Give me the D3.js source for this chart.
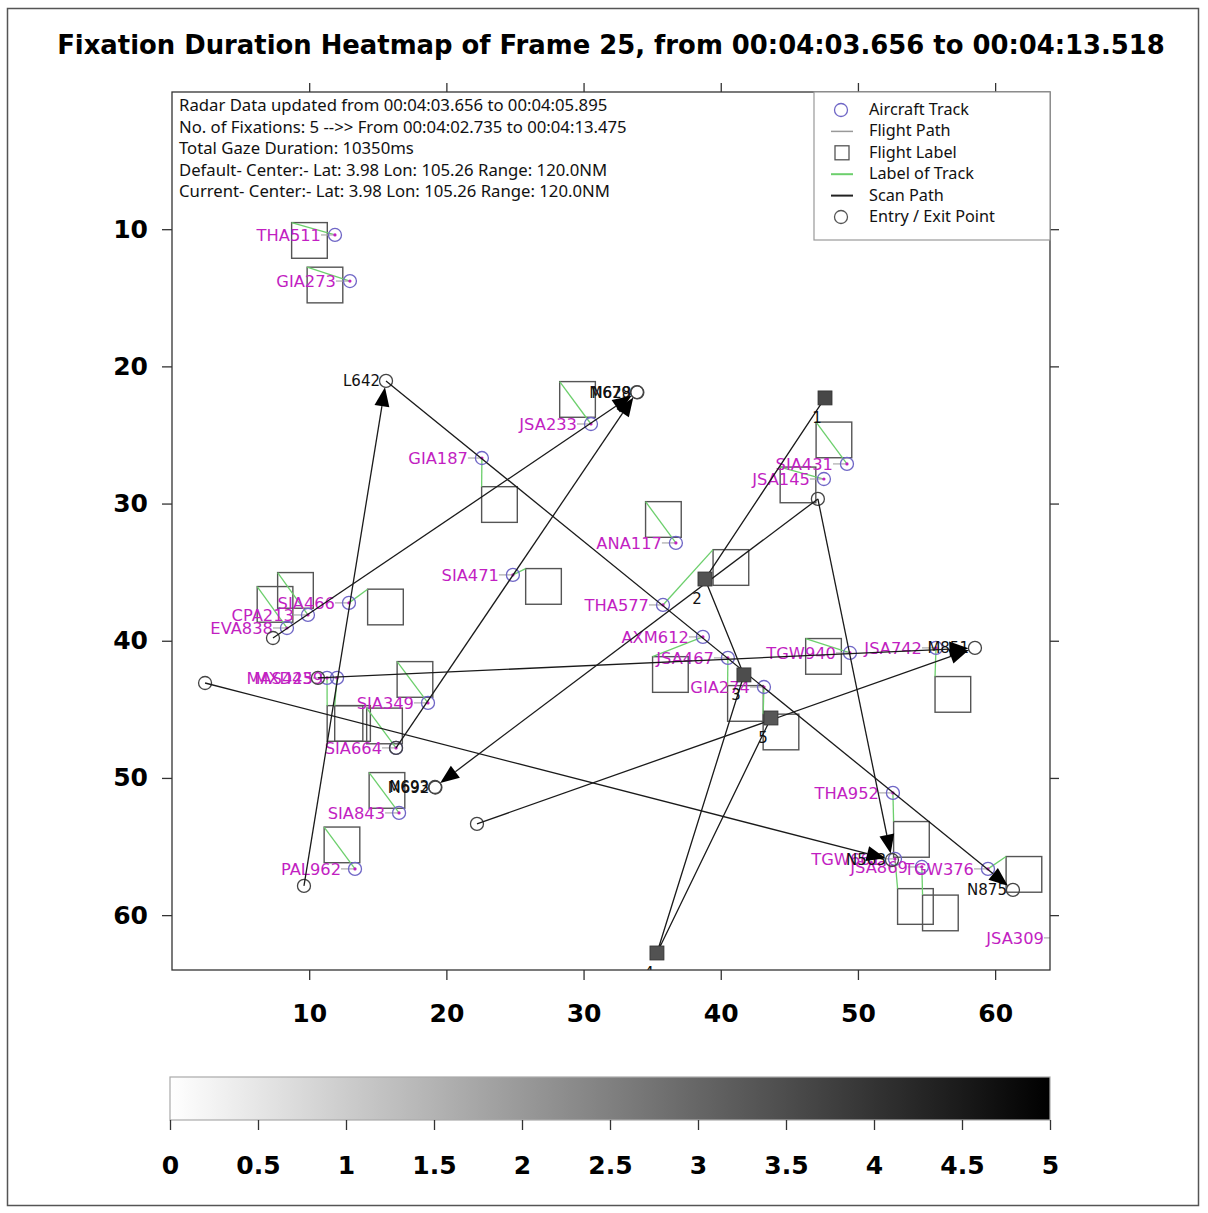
<!DOCTYPE html>
<html><head><meta charset="utf-8">
<script src="https://cdn.jsdelivr.net/npm/d3@7"></script>
<style>body{margin:0;background:#fff}svg{display:block}</style>
</head><body>
<script>
// ---------------- DATA ----------------
const titleText = "Fixation Duration Heatmap of Frame 25, from 00:04:03.656 to 00:04:13.518";
const infoLines = [
  "Radar Data updated from 00:04:03.656 to 00:04:05.895",
  "No. of Fixations: 5 -->> From 00:04:02.735 to 00:04:13.475",
  "Total Gaze Duration: 10350ms",
  "Default- Center:- Lat: 3.98 Lon: 105.26 Range: 120.0NM",
  "Current- Center:- Lat: 3.98 Lon: 105.26 Range: 120.0NM"
];
const legendLabels = ["Aircraft Track","Flight Path","Flight Label","Label of Track","Scan Path","Entry / Exit Point"];
const axisTicks = [10,20,30,40,50,60];
const colorbarTicks = [0,0.5,1,1.5,2,2.5,3,3.5,4,4.5,5];

const aircraftIds = ["THA511","GIA273","GIA187","JSA233","ANA117","SIA471","SIA466","CPA213","EVA838",
  "MAS425","MXD439","SIA349","SIA664","SIA843","PAL962","THA577","AXM612","JSA467","GIA274","SIA431",
  "JSA145","TGW940","JSA742","THA952","TGW661","JSA869","TGW376","JSA309"];
const aircraftX = [11.88,12.97,22.59,30.54,36.73,24.85,12.90,9.91,8.38,
  11.30,12.03,18.66,16.33,16.55,13.34,35.79,38.70,40.52,43.15,49.20,
  47.52,49.42,55.69,52.55,52.70,54.66,59.48,64.58];
const aircraftY = [10.42,13.78,26.68,24.20,32.87,35.20,37.24,38.12,39.07,
  42.71,42.71,44.53,47.81,52.55,56.63,37.39,39.72,41.25,43.37,27.11,
  28.21,40.89,40.52,51.09,55.90,56.49,56.63,61.66];
const labelBoxX = [10.02,11.15,23.87,29.56,35.82,27.08,15.56,9.00,7.51,
  12.61,13.16,17.71,15.49,15.67,12.39,40.74,36.33,41.80,44.39,48.25,
  45.63,47.49,56.92,53.90,54.19,56.01,62.10,67.00];
const labelBoxY = [10.82,14.07,30.07,22.41,31.16,36.04,37.54,36.33,37.35,
  46.03,46.03,42.82,46.21,50.91,54.88,34.66,42.46,44.57,46.65,25.36,
  28.64,41.14,43.91,54.48,59.37,59.84,57.03,60.00];
const labelBoxSize = 2.6;

const entryIds = ["L642","M679","N693","M851","N875","N563","","","","","","","","N628","M692"];
const entryX = [15.60,33.89,19.17,58.53,61.30,52.48,9.62,7.36,16.33,2.41,22.23,47.08,10.64,33.92,19.20];
const entryY = [21.06,21.87,50.66,40.52,58.16,55.98,57.87,39.80,47.81,43.08,53.35,29.66,42.71,21.90,50.70];

const arrowFrom = [6,0,7,8,9,10,11,11,12];
const arrowTo   = [0,4,1,1,5,3,2,5,3];

const fixationNum = [1,2,3,4,5];
const fixationX = [47.60,38.85,41.69,35.35,43.66];
const fixationY = [22.30,35.50,42.49,62.76,45.63];
const fixationDur = [3.6,3.4,3.5,3.4,3.3];

// ---------------- LAYOUT ----------------
const W = 1208, H = 1213;
const P = {left:172, top:92, right:1050, bottom:970};
const svg = d3.select("body").append("svg").attr("width", W).attr("height", H);
svg.append("rect").attr("width",W).attr("height",H).attr("fill","#fff");
svg.append("rect").attr("x",7.5).attr("y",8.5).attr("width",1191).attr("height",1197)
  .attr("fill","none").attr("stroke","#555").attr("stroke-width",1.5);

const x = d3.scaleLinear().domain([0,64]).range([P.left,P.right]);
const y = d3.scaleLinear().domain([0,64]).range([P.top,P.bottom]);
const cb = d3.scaleLinear().domain([0,5]).range([170,1050]);
const grey = v => d3.interpolateRgb("#ffffff","#000000")(v/5);

function fit(sel, target){
  const w = sel.node().getComputedTextLength();
  const fs = parseFloat(sel.attr("font-size"));
  sel.attr("font-size", fs*target/w);
  return fs*target/w;
}

// title
const t = svg.append("text").attr("x",611).attr("y",54).attr("text-anchor","middle")
  .attr("font-family","DejaVu Sans").attr("font-weight","bold").attr("font-size",24).text(titleText);
fit(t,1108);

// clip
svg.append("clipPath").attr("id","plotclip").append("rect")
  .attr("x",P.left).attr("y",P.top).attr("width",P.right-P.left).attr("height",P.bottom-P.top);
const g = svg.append("g").attr("clip-path","url(#plotclip)");

// flight label boxes
const sz = x(labelBoxSize)-x(0);
g.selectAll("rect.lab").data(aircraftIds).join("rect").attr("class","lab")
  .attr("x",(d,i)=>x(labelBoxX[i])-sz/2).attr("y",(d,i)=>y(labelBoxY[i])-sz/2)
  .attr("width",sz).attr("height",sz).attr("fill","none").attr("stroke","#555").attr("stroke-width",1.4);
// label of track (green)
g.selectAll("line.grn").data(aircraftIds).join("line").attr("class","grn")
  .attr("x1",(d,i)=>x(aircraftX[i])).attr("y1",(d,i)=>y(aircraftY[i]))
  .attr("x2",(d,i)=>x(labelBoxX[i])-sz/2).attr("y2",(d,i)=>y(labelBoxY[i])-sz/2)
  .attr("stroke","#6ccf6c").attr("stroke-width",1.3);
// flight path (grey)
g.selectAll("line.fp").data(aircraftIds).join("line").attr("class","fp")
  .attr("x1",(d,i)=>x(aircraftX[i])-14).attr("y1",(d,i)=>y(aircraftY[i]))
  .attr("x2",(d,i)=>x(aircraftX[i])).attr("y2",(d,i)=>y(aircraftY[i]))
  .attr("stroke","#aaa").attr("stroke-width",1.2);
// aircraft tracks
g.selectAll("circle.ac").data(aircraftIds).join("circle").attr("class","ac")
  .attr("cx",(d,i)=>x(aircraftX[i])).attr("cy",(d,i)=>y(aircraftY[i])).attr("r",6.5)
  .attr("fill","none").attr("stroke","#6f66c6").attr("stroke-width",1.3);
g.selectAll("circle.dot").data(aircraftIds).join("circle").attr("class","dot")
  .attr("cx",(d,i)=>x(aircraftX[i])).attr("cy",(d,i)=>y(aircraftY[i])).attr("r",1.6)
  .attr("fill","#c21fc2");
g.selectAll("text.ac").data(aircraftIds).join("text").attr("class","ac")
  .attr("x",(d,i)=>x(aircraftX[i])-14).attr("y",(d,i)=>y(aircraftY[i])+6)
  .attr("text-anchor","end").attr("font-family","DejaVu Sans").attr("font-size",16.3)
  .attr("fill","#c21fc2").text(d=>d);

// entry / exit points
g.selectAll("circle.en").data(entryIds).join("circle").attr("class","en")
  .attr("cx",(d,i)=>x(entryX[i])).attr("cy",(d,i)=>y(entryY[i])).attr("r",6.5)
  .attr("fill","none").attr("stroke","#444").attr("stroke-width",1.3);
g.selectAll("text.en").data(entryIds).join("text").attr("class","en")
  .attr("x",(d,i)=>x(entryX[i])-6).attr("y",(d,i)=>y(entryY[i])+5.5)
  .attr("text-anchor","end").attr("font-family","DejaVu Sans").attr("font-size",15)
  .attr("fill","#111").text(d=>d);

// saccade arrows between entry/exit points
const arrows = arrowFrom.map((f,i)=>{
  const x1=x(entryX[f]), y1=y(entryY[f]), x2=x(entryX[arrowTo[i]]), y2=y(entryY[arrowTo[i]]);
  const a=Math.atan2(y2-y1,x2-x1), r=6.5, L=19, hw=7.5;
  const tx=x2-r*Math.cos(a), ty=y2-r*Math.sin(a);
  const bx=tx-L*Math.cos(a), by=ty-L*Math.sin(a);
  return {x1,y1,bx,by,tx,ty,
    p:[[tx,ty],[bx-hw*Math.sin(a),by+hw*Math.cos(a)],[bx+hw*Math.sin(a),by-hw*Math.cos(a)]]};
});
g.selectAll("line.sac").data(arrows).join("line").attr("class","sac")
  .attr("x1",d=>d.x1).attr("y1",d=>d.y1).attr("x2",d=>d.bx).attr("y2",d=>d.by)
  .attr("stroke","#1a1a1a").attr("stroke-width",1.3);
g.selectAll("polygon.head").data(arrows).join("polygon").attr("class","head")
  .attr("points",d=>d.p.map(q=>q.join(",")).join(" ")).attr("fill","#000");

// scan path between fixations
const fixLine = d3.line().x(i=>x(fixationX[i])).y(i=>y(fixationY[i]));
g.append("path").attr("d",fixLine(fixationNum.map((d,i)=>i)))
  .attr("fill","none").attr("stroke","#1a1a1a").attr("stroke-width",1.3);
g.selectAll("rect.fix").data(fixationNum).join("rect").attr("class","fix")
  .attr("x",(d,i)=>x(fixationX[i])-7).attr("y",(d,i)=>y(fixationY[i])-7)
  .attr("width",14).attr("height",14).attr("fill",(d,i)=>grey(fixationDur[i]))
  .attr("stroke","#333").attr("stroke-width",0.8);
g.selectAll("text.fix").data(fixationNum).join("text").attr("class","fix")
  .attr("x",(d,i)=>x(fixationX[i])-8).attr("y",(d,i)=>y(fixationY[i])+25)
  .attr("text-anchor","middle").attr("font-family","DejaVu Sans").attr("font-size",15)
  .attr("fill","#111").text(d=>d);

// axes frame
svg.append("rect").attr("x",P.left).attr("y",P.top).attr("width",P.right-P.left).attr("height",P.bottom-P.top)
  .attr("fill","none").attr("stroke","#333").attr("stroke-width",1.3);

function styleAxis(sel, showText){
  sel.select(".domain").remove();
  sel.selectAll(".tick line").attr("stroke","#333").attr("stroke-width",1.3);
  sel.selectAll(".tick text").attr("font-family","DejaVu Sans").attr("font-weight","bold")
    .attr("font-size",25).attr("fill","#000");
  if(!showText) sel.selectAll(".tick text").remove();
}
styleAxis(svg.append("g").attr("transform",`translate(0,${P.bottom})`)
  .call(d3.axisBottom(x).tickValues(axisTicks).tickSize(10).tickPadding(24).tickFormat(d3.format("d"))), true);
styleAxis(svg.append("g").attr("transform",`translate(0,${P.top})`)
  .call(d3.axisTop(x).tickValues(axisTicks).tickSize(9)), false);
styleAxis(svg.append("g").attr("transform",`translate(${P.left},0)`)
  .call(d3.axisLeft(y).tickValues(axisTicks).tickSize(10).tickPadding(14).tickFormat(d3.format("d"))), true);
styleAxis(svg.append("g").attr("transform",`translate(${P.right},0)`)
  .call(d3.axisRight(y).tickValues(axisTicks).tickSize(9)), false);

// info text
const infoG = svg.append("g");
const infoT = infoG.selectAll("text").data(infoLines).join("text")
  .attr("x",179).attr("y",(d,i)=>111+i*21.6)
  .attr("font-family","Noto Sans").attr("font-size",14).attr("fill","#111").text(d=>d);
const fsInfo = fit(d3.select(infoT.nodes()[1]),448);
infoT.attr("font-size",fsInfo);

// legend
const lg = svg.append("g");
lg.append("rect").attr("x",814).attr("y",P.top).attr("width",P.right-814).attr("height",148)
  .attr("fill","#fff").attr("stroke","#999").attr("stroke-width",1.2);
const rowY = legendLabels.map((d,i)=>110+i*21.4);
lg.append("circle").attr("cx",841).attr("cy",rowY[0]).attr("r",6.5).attr("fill","none").attr("stroke","#6f66c6").attr("stroke-width",1.3);
lg.append("line").attr("x1",831).attr("x2",853).attr("y1",rowY[1]).attr("y2",rowY[1]).attr("stroke","#999").attr("stroke-width",1.5);
lg.append("rect").attr("x",835).attr("y",rowY[2]-7).attr("width",14).attr("height",14).attr("fill","none").attr("stroke","#555").attr("stroke-width",1.3);
lg.append("line").attr("x1",831).attr("x2",853).attr("y1",rowY[3]).attr("y2",rowY[3]).attr("stroke","#6ccf6c").attr("stroke-width",2);
lg.append("line").attr("x1",831).attr("x2",853).attr("y1",rowY[4]).attr("y2",rowY[4]).attr("stroke","#222").attr("stroke-width",2);
lg.append("circle").attr("cx",841).attr("cy",rowY[5]).attr("r",6.5).attr("fill","none").attr("stroke","#555").attr("stroke-width",1.3);
const lgT = lg.selectAll("text").data(legendLabels).join("text")
  .attr("x",869).attr("y",(d,i)=>rowY[i]+5).attr("font-family","Noto Sans").attr("font-size",14)
  .attr("fill","#111").text(d=>d);
const fsLg = fit(d3.select(lgT.nodes()[5]),126);
lgT.attr("font-size",fsLg);

// colorbar
const defs = svg.append("defs");
const grad = defs.append("linearGradient").attr("id","cbgrad");
grad.selectAll("stop").data(colorbarTicks).join("stop")
  .attr("offset",d=>d/5).attr("stop-color",d=>grey(d));
svg.append("rect").attr("x",cb(0)).attr("y",1077).attr("width",cb(5)-cb(0)).attr("height",43)
  .attr("fill","url(#cbgrad)").attr("stroke","#aaa").attr("stroke-width",1.2);
styleAxis(svg.append("g").attr("transform","translate(0,1120)")
  .call(d3.axisBottom(cb).tickValues(colorbarTicks).tickSize(10).tickPadding(26).tickFormat(d3.format(""))), true);
</script>
</body></html>
